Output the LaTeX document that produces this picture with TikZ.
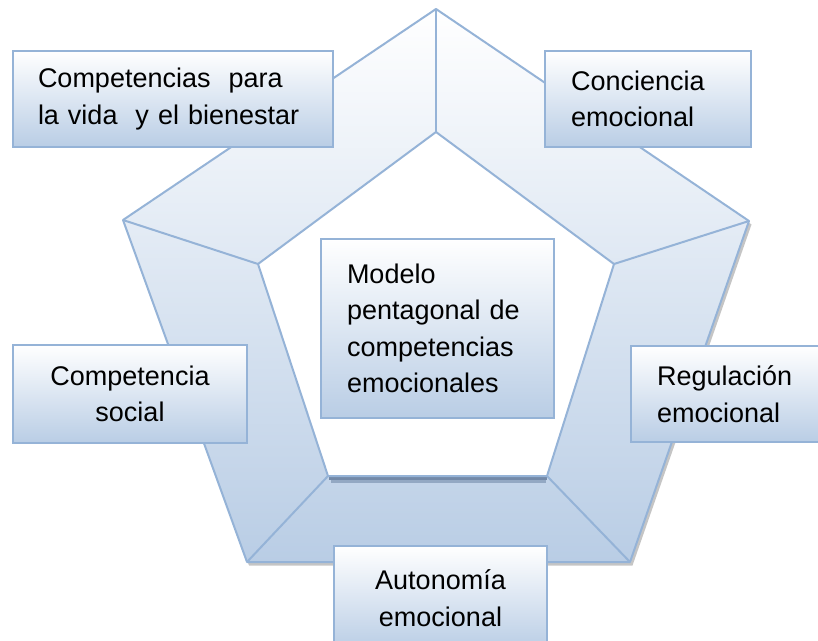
\documentclass[tikz,border=0pt]{standalone}
\usepackage{fontspec}
\setmainfont{Liberation Sans}
\definecolor{edge}{HTML}{95B3D7}
\definecolor{fillb}{HTML}{B9CDE5}
\definecolor{shad}{HTML}{7389A8}
\tikzset{
  box/.style={draw=edge, line width=2pt, top color=white, bottom color=fillb,
    anchor=north west, inner ysep=0pt, font=\fontsize{27}{36.5}\selectfont},
  ringline/.style={draw=edge, line width=2pt, line join=round}
}
\begin{document}
\begin{tikzpicture}[x=1pt,y=-1pt]
\useasboundingbox (0,0) rectangle (818,640);
% pentagon vertices
\coordinate (O1) at (436,9);
\coordinate (O2) at (749,221);
\coordinate (O3) at (630,562);
\coordinate (O4) at (247,562);
\coordinate (O5) at (123,220);
\coordinate (I1) at (436,132);
\coordinate (I2) at (614,264);
\coordinate (I3) at (547,476);
\coordinate (I4) at (328,476);
\coordinate (I5) at (258,264);
% shadow
\fill[gray!60, opacity=0.75] ([shift={(2,3.5)}]O1) -- ([shift={(2.5,3.5)}]O2) -- ([shift={(2.5,3.5)}]O3) -- ([shift={(2,3.5)}]O4) -- ([shift={(2,3.5)}]O5) -- cycle;
\fill[white] (I1) -- (I2) -- (I3) -- (I4) -- (I5) -- cycle;
% ring
\shade[top color=white, bottom color=fillb, even odd rule]
  (O1) -- (O2) -- (O3) -- (O4) -- (O5) -- cycle
  (I1) -- (I2) -- (I3) -- (I4) -- (I5) -- cycle;
% inner bottom shading band
\draw[shad!55!fillb, line width=6pt] ([shift={(3,4)}]I4) -- ([shift={(-1,4)}]I3);
\draw[shad, line width=3pt] ([shift={(1,2.2)}]I4) -- ([shift={(0,2.2)}]I3);
% outlines
\draw[ringline] (O1) -- (O2) -- (O3) -- (O4) -- (O5) -- cycle;
\draw[ringline] (I1) -- (I2) -- (I3) -- (I4) -- (I5) -- cycle;
\foreach \k in {1,...,5} { \draw[ringline] (O\k) -- (I\k); }
% boxes
\node[box, text width=270pt, inner xsep=25pt, minimum height=96pt, align=left] (b1) at (12,50)
  {Competencias\ \ para\\la vida\ \ y el bienestar};
\node[box, text width=154pt, inner xsep=26pt, minimum height=96pt, align=left] (b2) at (544,50)
  {Conciencia\\emocional};
\node[box, text width=181pt, inner xsep=26pt, minimum height=179pt, align=left] (bc) at (320,238)
  {Modelo\\pentagonal de\\competencias\\emocionales};
\node[box, text width=184pt, inner xsep=25pt, minimum height=98pt, align=center] (b4) at (12,344)
  {Competencia\\social};
\node[box, text width=150pt, inner xsep=26pt, minimum height=96pt, align=left] (b5) at (630,345)
  {Regulación\\emocional};
\node[box, text width=163pt, inner xsep=25pt, minimum height=104pt, align=center] (b6) at (333,545)
  {Autonomía\\emocional};
\end{tikzpicture}
\end{document}
